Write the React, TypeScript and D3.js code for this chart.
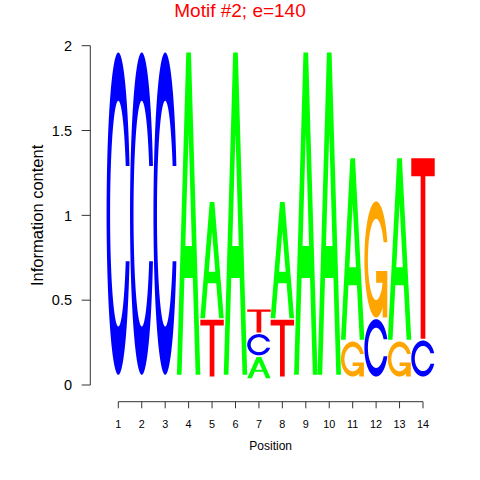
import React from "react";
import * as d3 from "d3";

// ---- data ----
const positions = [1, 2, 3, 4, 5, 6, 7, 8, 9, 10, 11, 12, 13, 14];
const heightA = [0, 0, 0, 1.9, 0.684, 1.9, 0.125, 0.684, 1.9, 1.9, 1.071, 0, 1.071, 0];
const heightC = [1.9, 1.9, 1.9, 0, 0, 0, 0.125, 0, 0, 0, 0, 0.338, 0, 0.212];
const heightG = [0, 0, 0, 0, 0, 0, 0, 0, 0, 0, 0.206, 0.684, 0.206, 0];
const heightT = [0, 0, 0, 0, 0.334, 0, 0.135, 0.334, 0, 0, 0, 0, 0, 1.065];
const yTicks = [0, 0.5, 1, 1.5, 2];
const yTickLabels = ["0", "0.5", "1", "1.5", "2"];
const xTickLabels = positions.map(String);
const titleText = "Motif #2; e=140";
const xLabel = "Position";
const yLabel = "Information content";

const letters = ["A", "C", "G", "T"];
const letterHeights: Record<string, number[]> = { A: heightA, C: heightC, G: heightG, T: heightT };
const letterColors: Record<string, string> = { A: "#00FF00", C: "#0000FF", G: "#FFA500", T: "#FF0000" };

const STACK_BASE = 0.03; // letters start slightly above the axis zero
const GAP = 0.01;

// ---- glyph shapes (unit square) ----
type Poly = { pts: [number, number][]; white?: boolean };

function seq(a: number, b: number, n: number) {
  return d3.range(n).map((i) => a + ((b - a) * i) / (n - 1));
}

function cOutline(): { pts: [number, number][]; r1: number } {
  const a1 = seq(0.3 + Math.PI / 2, Math.PI, 100);
  const a2 = seq(Math.PI, 1.5 * Math.PI, 100);
  const xl1 = a1.map((a) => 0.5 + 0.5 * Math.sin(a));
  const yl1 = a1.map((a) => 0.5 + 0.5 * Math.cos(a));
  const xl2 = a2.map((a) => 0.5 + 0.5 * Math.sin(a));
  const yl2 = a2.map((a) => 0.5 + 0.5 * Math.cos(a));
  const xl = [...xl1, ...xl2];
  const yl = [...yl1, ...yl2];
  const x = [...xl, ...xl.slice().reverse()];
  const y = [...yl, ...yl.slice().reverse().map((v) => 1 - v)];
  const maxY = Math.max(...yl1);
  let xi1 = a1.map((a) => 0.5 + 0.35 * Math.sin(a));
  let yi1 = a1.map((a) => 0.5 + 0.35 * Math.cos(a));
  const keep = yi1.map((v) => v <= maxY);
  xi1 = xi1.filter((_, i) => keep[i]);
  yi1 = yi1.filter((_, i) => keep[i]);
  yi1[0] = maxY;
  const xi2 = a2.map((a) => 0.5 + 0.35 * Math.sin(a));
  const yi2 = a2.map((a) => 0.5 + 0.35 * Math.cos(a));
  const xi = [...xi1, ...xi2];
  const yi = [...yi1, ...yi2];
  const x1 = [...xi, ...xi.slice().reverse()];
  const y1 = [...yi, ...yi.slice().reverse().map((v) => 1 - v)];
  const X = [...x, ...x1.slice().reverse()];
  const Y = [...y, ...y1.slice().reverse()];
  return { pts: X.map((v, i) => [v, Y[i]] as [number, number]), r1: Math.max(...xl1) };
}

function glyph(letter: string): Poly[] {
  if (letter === "A") {
    const x = [0, 4, 6, 10, 8, 6.8, 3.2, 2, 0].map((v) => v / 10);
    const y = [0, 10, 10, 0, 0, 3, 3, 0, 0].map((v) => v / 10);
    const hx = [3.6, 5, 6.4, 3.6].map((v) => v / 10);
    const hy = [4, 7.5, 4, 4].map((v) => v / 10);
    return [
      { pts: x.map((v, i) => [v, y[i]] as [number, number]) },
      { pts: hx.map((v, i) => [v, hy[i]] as [number, number]), white: true },
    ];
  }
  if (letter === "T") {
    const x = [0, 10, 10, 6, 6, 4, 4, 0].map((v) => v / 10);
    const y = [10, 10, 9, 9, 0, 0, 9, 9].map((v) => v / 10);
    return [{ pts: x.map((v, i) => [v, y[i]] as [number, number]) }];
  }
  const c = cOutline();
  if (letter === "C") return [{ pts: c.pts }];
  const r1 = c.r1;
  const h1 = 0.4;
  const ax = [r1, 0.5, 0.5, r1 - 0.2, r1 - 0.2, r1, r1];
  const ay = [h1, h1, h1 - 0.1, h1 - 0.1, 0, 0, h1];
  return [{ pts: c.pts }, { pts: ax.map((v, i) => [v, ay[i]] as [number, number]) }];
}

const glyphs: Record<string, Poly[]> = {
  A: glyph("A"),
  C: glyph("C"),
  G: glyph("G"),
  T: glyph("T"),
};

// ---- layout ----
const W = 480;
const H = 480;
const x = d3.scaleLinear().domain([1, 14]).range([118.3, 423]);
const y = d3.scaleLinear().domain([0, 2]).range([385, 45.7]);
const font = "'Liberation Sans', Arial, Helvetica, sans-serif";

export default function App() {
  const marks: React.ReactNode[] = [];
  positions.forEach((p, j) => {
    const order = letters
      .map((l, k) => ({ l, h: letterHeights[l][j], k }))
      .sort((a, b) => a.h - b.h || a.k - b.k);
    let base = STACK_BASE;
    order.forEach(({ l, h }) => {
      if (h > 0) {
        const x0 = p - 0.5;
        const yb = base;
        glyphs[l].forEach((poly, pi) => {
          const d =
            "M" +
            poly.pts
              .map(([ux, uy]) => `${x(x0 + ux).toFixed(2)},${y(yb + uy * h).toFixed(2)}`)
              .join("L") +
            "Z";
          marks.push(
            <path key={`${p}-${l}-${pi}`} d={d} fill={poly.white ? "#FFFFFF" : letterColors[l]} stroke="none" />
          );
        });
      }
      base += h + GAP;
    });
  });

  const axisColor = "#333333";
  const xAxisY = 401.7;
  return (
    <svg
      width={W}
      height={H}
      viewBox={`0 0 ${W} ${H}`}
      style={{ position: "absolute", left: 0, top: 0, background: "#fff" }}
      fontFamily={font}
    >
      <rect x={0} y={0} width={W} height={H} fill="#fff" />
      <text x={240} y={17} textAnchor="middle" fontSize={19} fill="#FF0000">
        {titleText}
      </text>
      {marks}
      {/* y axis */}
      <line x1={90.3} x2={90.3} y1={y(0)} y2={y(2)} stroke={axisColor} strokeWidth={1} />
      {yTicks.map((t, i) => (
        <g key={`yt${i}`}>
          <line x1={81.7} x2={90.3} y1={y(t)} y2={y(t)} stroke={axisColor} strokeWidth={1} />
          <text x={72} y={y(t) + 5.3} textAnchor="end" fontSize={14.5} fill="#000">
            {yTickLabels[i]}
          </text>
        </g>
      ))}
      <text
        transform={`translate(${43},${(y(0) + y(2)) / 2}) rotate(-90)`}
        textAnchor="middle"
        fontSize={16.5}
        fill="#000"
      >
        {yLabel}
      </text>
      {/* x axis */}
      <line x1={x(1)} x2={x(14)} y1={xAxisY} y2={xAxisY} stroke={axisColor} strokeWidth={1} />
      {positions.map((p, i) => (
        <g key={`xt${i}`}>
          <line x1={x(p)} x2={x(p)} y1={xAxisY} y2={xAxisY + 6.6} stroke={axisColor} strokeWidth={1} />
          <text x={x(p)} y={427.6} textAnchor="middle" fontSize={10.8} fill="#000">
            {xTickLabels[i]}
          </text>
        </g>
      ))}
      <text x={(x(1) + x(14)) / 2} y={450} textAnchor="middle" fontSize={12} fill="#000">
        {xLabel}
      </text>
    </svg>
  );
}
